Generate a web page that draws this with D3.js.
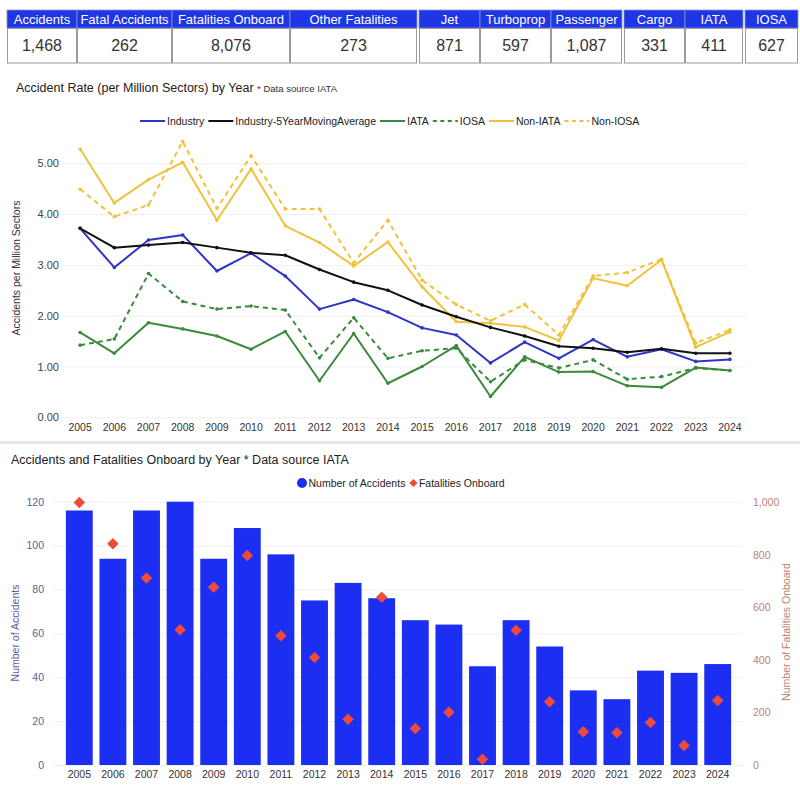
<!DOCTYPE html>
<html><head><meta charset="utf-8">
<script src="https://cdn.jsdelivr.net/npm/d3@7"></script>
<style>body{margin:0;background:#fff;} svg{display:block;font-family:Arial,"Liberation Sans",sans-serif;}</style>
</head><body><svg id="c" width="800" height="800"></svg>
<script>
// ---------- DATA ----------
const tableHeaders = ["Accidents","Fatal Accidents","Fatalities Onboard","Other Fatalities","Jet","Turboprop","Passenger","Cargo","IATA","IOSA"];
const tableValues = [1468,262,8076,273,871,597,1087,331,411,627];

const years = [2005,2006,2007,2008,2009,2010,2011,2012,2013,2014,2015,2016,2017,2018,2019,2020,2021,2022,2023,2024];

const industry      = [3.72,2.95,3.49,3.59,2.88,3.23,2.78,2.13,2.32,2.07,1.76,1.62,1.07,1.48,1.16,1.53,1.19,1.34,1.10,1.14];
const industry5yr   = [3.72,3.34,3.39,3.44,3.34,3.24,3.19,2.91,2.66,2.50,2.21,1.98,1.77,1.60,1.40,1.36,1.28,1.35,1.26,1.26];
const iata          = [1.67,1.26,1.86,1.74,1.60,1.34,1.69,0.72,1.65,0.67,1.00,1.41,0.41,1.19,0.89,0.90,0.62,0.59,0.98,0.92];
const iosa          = [1.42,1.54,2.83,2.28,2.13,2.19,2.11,1.17,1.96,1.16,1.31,1.36,0.70,1.13,0.97,1.13,0.75,0.80,0.97,0.92];
const nonIata       = [5.28,4.22,4.68,5.02,3.88,4.89,3.77,3.44,2.98,3.45,2.57,1.88,1.85,1.78,1.51,2.74,2.59,3.10,1.38,1.68];
const nonIosa       = [4.49,3.95,4.18,5.43,4.11,5.15,4.10,4.10,3.04,3.88,2.70,2.22,1.90,2.22,1.62,2.78,2.85,3.11,1.46,1.72];
const rateTicks     = [0,1,2,3,4,5];

const accidents     = [116,94,116,120,94,108,96,75,83,76,66,64,45,66,54,34,30,43,42,46];
const fatalities    = [1000,843,712,515,677,798,492,410,174,639,139,201,22,513,241,127,123,162,74,246];
const accTicks      = [0,20,40,60,80,100,120];
const fatTicks      = [0,200,400,600,800,1000];

// ---------- LAYOUT / STYLE ----------
const svg = d3.select("#c");
const BLUE_HDR = "#1f36e6";
const colEdges = [7,77,172,290,417,480,551,622,685,743,798];
const gapAfter = new Set([3,6,8]);

// Table
const tbl = svg.append("g");
tableHeaders.forEach((h,i)=>{
  const x0 = colEdges[i] + (i>0 && gapAfter.has(i-1) ? 2 : 0);
  const x1 = colEdges[i+1];
  const g = tbl.append("g");
  g.append("rect").attr("x",x0).attr("y",10).attr("width",x1-x0).attr("height",18)
    .attr("fill",BLUE_HDR).attr("stroke","#8a93c8").attr("stroke-width",0.8);
  g.append("rect").attr("x",x0+0.5).attr("y",28.5).attr("width",x1-x0-1).attr("height",34.5)
    .attr("fill","#fff").attr("stroke","#9a9a9a").attr("stroke-width",1);
  g.append("text").attr("x",(x0+x1)/2).attr("y",23.5).attr("text-anchor","middle")
    .attr("fill","#fff").attr("font-size",13).text(h);
  g.append("text").attr("x",(x0+x1)/2).attr("y",51).attr("text-anchor","middle")
    .attr("fill","#333").attr("font-size",16).text(d3.format(",")(tableValues[i]));
});

// ---------- LINE CHART ----------
const title1 = svg.append("text").attr("x",16).attr("y",92).attr("fill","#222").attr("font-size",12.5);
title1.append("tspan").text("Accident Rate (per Million Sectors) by Year ");
title1.append("tspan").attr("font-size",9.5).attr("fill","#333").text("* Data source IATA");

const xL = d3.scaleBand().domain(years).range([63,747]);
const yL = d3.scaleLinear().domain([0,5]).range([417.3,163.3]);
const cx = d => xL(d) + xL.bandwidth()/2;

const gy = svg.append("g").attr("transform","translate(63,0)")
  .call(d3.axisLeft(yL).tickValues(rateTicks).tickFormat(d3.format(".2f")).tickSize(-684).tickPadding(4));
gy.select(".domain").remove();
gy.selectAll(".tick line").attr("stroke","#efefef");
gy.selectAll("text").attr("fill","#444").attr("font-size",11).attr("font-family","Arial,Liberation Sans,sans-serif");

const gx = svg.append("g").attr("transform","translate(0,417.3)")
  .call(d3.axisBottom(xL).tickSize(0).tickPadding(6));
gx.select(".domain").remove();
gx.selectAll("text").attr("fill","#333").attr("font-size",10.5).attr("font-family","Arial,Liberation Sans,sans-serif");

svg.append("text").attr("transform","translate(20,268) rotate(-90)").attr("text-anchor","middle")
  .attr("fill","#333").attr("font-size",10.5).text("Accidents per Million Sectors");

const seriesL = [
  {name:"Industry", vals:industry, color:"#2e35c6", dash:null},
  {name:"Industry-5YearMovingAverage", vals:industry5yr, color:"#111111", dash:null},
  {name:"IATA", vals:iata, color:"#3a8a3c", dash:null},
  {name:"IOSA", vals:iosa, color:"#3a8a3c", dash:"5,4"},
  {name:"Non-IATA", vals:nonIata, color:"#f0c23a", dash:null},
  {name:"Non-IOSA", vals:nonIosa, color:"#f0c23a", dash:"5,4"}
];
const drawOrder = [5,4,3,2,0,1];
const line = d3.line().x((d,i)=>cx(years[i])).y(d=>yL(d));
drawOrder.forEach(k=>{
  const s = seriesL[k];
  svg.append("path").attr("d",line(s.vals)).attr("fill","none").attr("stroke",s.color)
    .attr("stroke-width",2).attr("stroke-dasharray",s.dash).attr("stroke-linejoin","round");
  svg.append("g").selectAll("circle").data(s.vals).join("circle")
    .attr("cx",(d,i)=>cx(years[i])).attr("cy",d=>yL(d)).attr("r",1.8).attr("fill",s.color);
});

// legend
const lg = svg.append("g");
let lx = 140;
seriesL.forEach(s=>{
  lg.append("line").attr("x1",lx).attr("x2",lx+25).attr("y1",121).attr("y2",121)
    .attr("stroke",s.color).attr("stroke-width",2).attr("stroke-dasharray",s.dash?"4,3.5":null);
  const t = lg.append("text").attr("x",lx+27).attr("y",124.5).attr("font-size",10.5).attr("fill","#222").text(s.name);
  lx += 27 + t.node().getComputedTextLength() + 4;
});

// separator
svg.append("rect").attr("x",0).attr("y",441).attr("width",800).attr("height",3).attr("fill","#e6e6e6");

// ---------- BAR CHART ----------
svg.append("text").attr("x",11).attr("y",464).attr("fill","#222").attr("font-size",12.5)
  .text("Accidents and Fatalities Onboard by Year * Data source IATA");

const xB = d3.scaleBand().domain(years).range([62.5,734.5]).paddingInner(0.2).paddingOuter(0.1);
const yB = d3.scaleLinear().domain([0,120]).range([765,501.7]);
const yF = d3.scaleLinear().domain([0,1000]).range([765,502.5]);

const gyB = svg.append("g").attr("transform","translate(53,0)")
  .call(d3.axisLeft(yB).tickValues(accTicks).tickSize(-690).tickPadding(9));
gyB.select(".domain").remove();
gyB.selectAll(".tick line").attr("stroke","#f0f0f0");
gyB.selectAll("text").attr("fill","#56609e").attr("font-size",10.5).attr("font-family","Arial,Liberation Sans,sans-serif");

const gyF = svg.append("g").attr("transform","translate(748,0)")
  .call(d3.axisRight(yF).tickValues(fatTicks).tickFormat(d3.format(",")).tickSize(0).tickPadding(5));
gyF.select(".domain").remove();
gyF.selectAll("text").attr("fill","#c0826e").attr("font-size",10.5).attr("font-family","Arial,Liberation Sans,sans-serif");

svg.append("g").selectAll("rect").data(accidents).join("rect")
  .attr("x",(d,i)=>xB(years[i])).attr("width",xB.bandwidth())
  .attr("y",d=>yB(d)).attr("height",d=>yB(0)-yB(d)).attr("fill","#1c2ef2");

const gxB = svg.append("g").attr("transform","translate(0,765)")
  .call(d3.axisBottom(xB).tickSize(0).tickPadding(6));
gxB.select(".domain").remove();
gxB.selectAll("text").attr("fill","#333").attr("font-size",10.5).attr("font-family","Arial,Liberation Sans,sans-serif");

const diamond = d3.symbol().type(d3.symbolSquare).size(66);
svg.append("g").selectAll("path").data(fatalities).join("path")
  .attr("d",diamond)
  .attr("transform",(d,i)=>`translate(${xB(years[i])+xB.bandwidth()/2},${yF(d)}) rotate(45)`)
  .attr("fill","#ef4b3a");

svg.append("text").attr("transform","translate(19,633) rotate(-90)").attr("text-anchor","middle")
  .attr("fill","#56609e").attr("font-size",10.5).text("Number of Accidents");
svg.append("text").attr("transform","translate(790,632) rotate(-90)").attr("text-anchor","middle")
  .attr("fill","#c0826e").attr("font-size",10.5).text("Number of Fatalities Onboard");

// bar legend
const bl = svg.append("g");
bl.append("circle").attr("cx",302).attr("cy",483).attr("r",5).attr("fill","#1c2ef2");
const t1 = bl.append("text").attr("x",308.5).attr("y",486.5).attr("font-size",10.5).attr("fill","#222").text("Number of Accidents");
const dx = 308.5 + t1.node().getComputedTextLength() + 8;
bl.append("path").attr("d",d3.symbol().type(d3.symbolSquare).size(34))
  .attr("transform",`translate(${dx},483) rotate(45)`).attr("fill","#ef4b3a");
bl.append("text").attr("x",dx+5.5).attr("y",486.5).attr("font-size",10.5).attr("fill","#222").text("Fatalities Onboard");
</script>
</body></html>
